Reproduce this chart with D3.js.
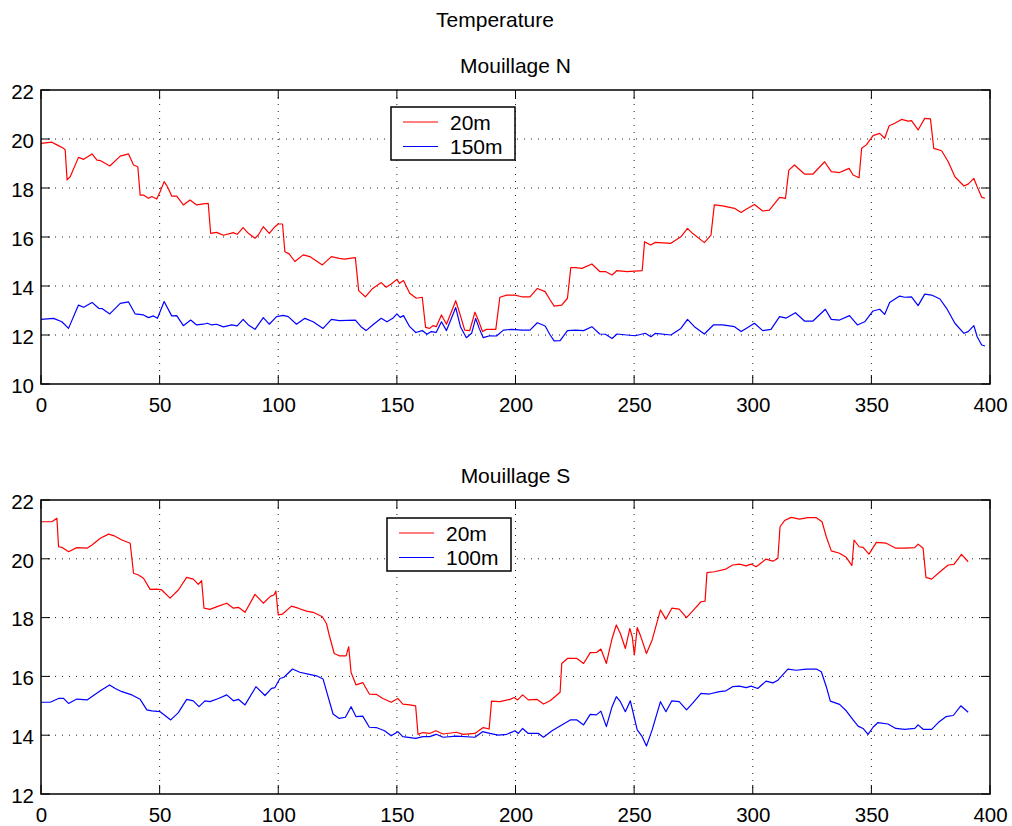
<!DOCTYPE html>
<html>
<head>
<meta charset="utf-8">
<script src="https://cdn.jsdelivr.net/npm/d3@7"></script>
<style>
  html, body { margin: 0; padding: 0; background: #fff; }
  svg { display: block; font-family: "Liberation Sans", Arial, Helvetica, sans-serif; }
</style>
</head>
<body>
<svg id="chart" width="1012" height="826"></svg>
<script>
// Temperature records, [day, °C]
const north20m = [[0,19.82],[4.6,19.87],[6.7,19.76],[9.5,19.62],[10.2,19.55],[11,18.33],[12.3,18.46],[15.8,19.25],[18,19.17],[21.5,19.39],[23.6,19.14],[25,19.12],[29,18.9],[33.4,19.3],[36.9,19.39],[39,18.94],[40.8,18.87],[41.8,17.71],[43.2,17.71],[45.3,17.58],[46.7,17.65],[48.8,17.55],[50.2,17.85],[51.9,18.26],[53.3,18.05],[55.1,17.67],[57.2,17.67],[60,17.31],[62.8,17.51],[65.6,17.31],[68.4,17.35],[70.5,17.37],[71.5,16.15],[74,16.19],[76.9,16.07],[81,16.18],[82.7,16.11],[85.2,16.38],[87.4,16.15],[90.2,15.95],[91.6,16.08],[93.7,16.42],[96.2,16.15],[98.6,16.42],[100,16.53],[101.8,16.53],[102.8,15.4],[104.6,15.31],[107,15.0],[110.5,15.27],[113.3,15.2],[118.6,14.86],[122.4,15.2],[125.7,15.13],[127.9,15.1],[132.5,15.16],[133.9,13.81],[136.7,13.56],[139.8,13.9],[143.4,14.14],[145.5,13.95],[147.6,14.08],[150,14.27],[151.1,14.11],[152.8,14.22],[155.4,13.7],[158.2,13.5],[160.7,13.54],[162.1,12.31],[163.8,12.27],[165.2,12.38],[166.6,12.34],[168.8,12.82],[170.9,12.44],[173,12.95],[174.8,13.4],[176.5,12.88],[178.6,12.2],[180.7,12.18],[182.9,12.93],[184.3,12.61],[186.1,12.14],[187.8,12.23],[191.7,12.23],[193.4,13.54],[196.3,13.63],[199.8,13.63],[202.6,13.56],[206.1,13.56],[209.2,13.9],[212.5,13.77],[214.6,13.43],[216.3,13.18],[219.5,13.22],[221.9,13.5],[223.3,14.75],[225.2,14.75],[228,14.72],[232.2,14.9],[235.5,14.59],[237.9,14.59],[240.7,14.45],[242.8,14.63],[247,14.59],[253.4,14.63],[254.4,15.81],[256.9,15.67],[259,15.78],[265.5,15.74],[269.7,16.01],[272.5,16.35],[274.6,16.15],[279.6,15.77],[282.4,16.08],[283.8,17.31],[287.3,17.27],[292.3,17.17],[295.1,17.0],[297.2,17.13],[300.7,17.33],[304.2,17.06],[307,17.1],[311.3,17.62],[313.8,17.58],[315.2,18.73],[317.6,18.94],[321.8,18.57],[325.4,18.57],[330.3,19.07],[333.1,18.67],[336.6,18.63],[340.6,18.8],[342.3,18.53],[344.8,18.42],[345.9,19.62],[347.9,19.76],[350.7,20.14],[353.5,20.23],[355.6,20.03],[357.5,20.54],[359.9,20.64],[362.7,20.8],[365.5,20.73],[366.9,20.75],[369.7,20.37],[372.5,20.84],[374.9,20.82],[376.3,19.62],[379.6,19.52],[382.4,19.07],[385.2,18.46],[389,18.08],[390.8,18.16],[393.2,18.39],[394.6,18.05],[396.5,17.62],[397.9,17.58]];

const north150m = [[0,12.64],[5.3,12.68],[8.8,12.54],[11.6,12.27],[15.8,13.22],[18,13.13],[21.5,13.33],[24.3,13.09],[25.7,13.08],[29,12.86],[33.4,13.29],[36.9,13.35],[39.7,12.86],[43.2,12.82],[45.3,12.71],[47.4,12.78],[49.1,12.68],[51.9,13.37],[55.1,12.78],[57.2,12.79],[60,12.38],[63.1,12.61],[65.6,12.41],[68.4,12.44],[70.1,12.48],[72,12.41],[74,12.44],[76.9,12.33],[80.4,12.41],[82.7,12.37],[85.2,12.64],[87.4,12.41],[90.2,12.23],[93.7,12.71],[96.2,12.44],[99.3,12.75],[102.1,12.8],[104.2,12.75],[107.7,12.44],[111.2,12.68],[114.7,12.54],[118.9,12.27],[122.4,12.64],[125.7,12.59],[132.5,12.61],[134.9,12.34],[137,12.18],[139.8,12.41],[143.4,12.68],[145.8,12.54],[148.3,12.68],[150,12.86],[151.4,12.72],[152.8,12.79],[155.4,12.34],[158,12.1],[160.7,12.18],[162.7,12.03],[164.5,12.14],[166.6,12.11],[168.8,12.54],[170.9,12.18],[173,12.68],[174.8,13.12],[176.8,12.34],[179.3,11.89],[181.5,12.07],[183.2,12.68],[184.7,12.27],[186.4,11.89],[189.2,11.97],[192,11.96],[194.9,12.2],[198.4,12.23],[202.6,12.2],[206.1,12.2],[209.2,12.5],[212.5,12.37],[214.6,12.0],[216.3,11.76],[218.8,11.77],[221.9,12.18],[225.2,12.2],[228.7,12.18],[232.2,12.34],[235.5,12.04],[237.9,12.03],[240.7,11.86],[242.8,12.04],[247,12.0],[250.4,11.97],[254.7,12.07],[257.1,11.93],[259,12.07],[265.5,12.0],[269.7,12.27],[272.5,12.64],[275.4,12.34],[279.6,12.04],[283.4,12.41],[287.3,12.41],[292.3,12.34],[295.1,12.14],[297.2,12.27],[300.7,12.48],[304.2,12.18],[307.7,12.23],[311.3,12.75],[314.1,12.69],[318,12.91],[321.8,12.57],[325.4,12.57],[330.6,13.05],[333.1,12.64],[336.6,12.61],[340.8,12.79],[344.1,12.41],[347.2,12.54],[350.7,12.98],[353.5,13.05],[355.6,12.84],[357.7,13.33],[361.9,13.59],[364.1,13.54],[366.9,13.56],[369.7,13.2],[372.5,13.67],[375.4,13.63],[378.9,13.47],[381.7,13.09],[385.2,12.48],[389,12.07],[390.8,12.14],[393.2,12.38],[394.6,11.93],[396.5,11.59],[397.9,11.55]];

const south20m = [[0,21.26],[4.6,21.26],[6.7,21.38],[7.4,20.41],[8.8,20.39],[11.6,20.24],[15.1,20.38],[19.4,20.36],[21.5,20.47],[25,20.7],[28.5,20.84],[30.6,20.79],[34.1,20.64],[37.6,20.53],[39,19.51],[41.1,19.45],[43.2,19.34],[46,18.96],[48.8,18.97],[50.9,18.94],[54.4,18.66],[57.9,18.94],[61.4,19.37],[64.2,19.31],[66.3,19.13],[67.7,19.26],[68.7,18.32],[71.2,18.28],[74.8,18.39],[78.3,18.49],[81.1,18.32],[83.2,18.35],[86,18.18],[90.2,18.79],[93.7,18.49],[96.8,18.73],[98.2,18.77],[99,18.9],[100,18.09],[101.8,18.12],[105.6,18.39],[108.4,18.32],[111.9,18.22],[114.7,18.18],[118.6,18.03],[120.3,17.8],[121.5,17.4],[123.6,16.78],[125.7,16.7],[128.6,16.7],[129.7,17.01],[130.7,16.13],[132.8,15.71],[135.6,15.79],[138.4,15.4],[141.3,15.39],[144.1,15.25],[147.6,15.12],[150.4,15.25],[152.5,15.06],[155.4,15.03],[157.9,15.0],[158.9,14.03],[161,14.09],[163.8,14.06],[166.4,14.15],[169.5,14.04],[175.1,14.1],[177.9,14.03],[182.9,14.06],[186.4,14.26],[188.9,14.21],[189.9,15.16],[193.4,15.14],[197.7,15.22],[199.4,15.28],[200.9,15.2],[203,15.37],[205.4,15.2],[209,15.22],[211.8,15.06],[214.6,15.17],[218.8,15.46],[219.5,16.44],[221.9,16.61],[225.9,16.61],[228.7,16.44],[231.5,16.81],[234.3,16.82],[236,16.93],[238.3,16.44],[240.7,17.29],[242.5,17.75],[244.2,17.46],[246.3,16.95],[248.2,17.63],[249.2,17.35],[250.1,16.73],[251.3,17.66],[252.7,17.38],[255.2,16.78],[257.6,17.24],[261.1,18.26],[263.4,17.95],[265.9,18.32],[269,18.29],[272.1,18.0],[274.6,18.22],[278.2,18.54],[279.9,18.56],[280.7,19.53],[283.8,19.56],[288.7,19.65],[291.5,19.79],[294.4,19.82],[297.2,19.76],[299.3,19.82],[301.4,19.73],[305.6,19.99],[308.5,19.92],[310.6,20.02],[311.5,21.09],[313.4,21.3],[316.2,21.41],[319.7,21.35],[323.2,21.4],[326.8,21.4],[329.2,21.26],[331,20.75],[333.1,20.27],[336.6,20.19],[339.4,20.05],[341.8,19.77],[342.7,20.64],[344.8,20.41],[346.5,20.39],[349,20.16],[352.1,20.56],[356.3,20.53],[360.3,20.36],[364.1,20.36],[368.3,20.38],[369.7,20.5],[371.8,20.36],[373,19.37],[375.4,19.31],[378.9,19.56],[382.4,19.79],[384.8,19.81],[388,20.15],[390.8,19.9]];

const south100m = [[0,15.12],[3.9,15.12],[7.4,15.25],[9.5,15.25],[11.6,15.08],[15.1,15.23],[19.4,15.2],[25,15.51],[28.9,15.71],[31.3,15.59],[34.1,15.48],[38.3,15.37],[41.8,15.22],[44.6,14.86],[46.7,14.83],[50.2,14.8],[54.7,14.52],[57.9,14.77],[61.4,15.22],[64.2,15.17],[66.6,14.97],[69.1,15.17],[71.2,15.14],[74.8,15.25],[78.3,15.37],[81.1,15.17],[83.2,15.22],[86,15.03],[90.6,15.65],[94.4,15.35],[97.2,15.59],[98.6,15.62],[100.7,15.93],[102.4,15.97],[106,16.25],[109.1,16.14],[112.6,16.08],[116.1,16.02],[118.9,15.91],[121,15.31],[123.1,14.72],[125.7,14.57],[128.3,14.61],[130.7,14.97],[132.8,14.63],[135.6,14.65],[138.4,14.27],[141.3,14.26],[144.8,14.15],[147.6,13.98],[150.4,14.12],[152.5,13.95],[157.9,13.89],[161,13.95],[163.8,13.95],[166.6,14.03],[169.5,13.93],[175.1,13.97],[182.9,13.93],[186.1,14.12],[189.2,14.06],[192.7,14.0],[196.3,14.03],[199.8,14.15],[201.2,14.06],[203,14.23],[205.4,14.06],[209.7,14.06],[211.8,13.93],[215.4,14.15],[219.5,14.35],[223.1,14.52],[225.9,14.52],[228.7,14.35],[231.5,14.71],[234.1,14.69],[236,14.82],[238.3,14.29],[240.7,14.97],[242.5,15.31],[244.2,15.14],[246.3,14.8],[248.4,15.17],[251.3,14.18],[253.4,13.95],[255.2,13.63],[257.6,14.18],[261.1,15.14],[263.4,14.8],[265.9,15.17],[269,15.14],[272.1,14.86],[274.6,15.08],[278.2,15.42],[281.7,15.4],[285.9,15.48],[288.7,15.51],[291.5,15.65],[294.4,15.67],[297.2,15.62],[299.3,15.67],[302.1,15.59],[305.6,15.84],[308.5,15.78],[310.6,15.87],[314.8,16.25],[318.3,16.21],[322.5,16.25],[326.8,16.25],[328.9,16.16],[331,15.65],[332.7,15.16],[336.6,15.05],[339.4,14.83],[342.3,14.52],[344.4,14.31],[346.5,14.23],[348.6,14.03],[350.7,14.27],[352.8,14.43],[357,14.38],[360.3,14.23],[364.1,14.2],[368.3,14.23],[369.7,14.35],[371.8,14.2],[375.4,14.2],[378.2,14.43],[381.4,14.63],[384.5,14.67],[387.7,15.0],[390.8,14.78]];

// Axis ticks and labels
const dayTicks = [0, 50, 100, 150, 200, 250, 300, 350, 400];
const northTempTicks = [10, 12, 14, 16, 18, 20, 22];
const southTempTicks = [12, 14, 16, 18, 20, 22];
const figureTitle = "Temperature";
const northTitle = "Mouillage N";
const southTitle = "Mouillage S";
const northLegend = ["20m", "150m"];
const southLegend = ["20m", "100m"];

const TEXT_SIZE = 21;
const TICK_SIZE = 20.5;

const svg = d3.select("#chart");
svg.append("rect").attr("width", 1012).attr("height", 826).attr("fill", "#fff");

const LEFT = 41, RIGHT = 990;
const x = d3.scaleLinear().domain([0, 400]).range([LEFT, RIGHT]);

function drawPanel(opts) {
  const { top, bottom, yDomain, yTicks, title, series, legend } = opts;
  const y = d3.scaleLinear().domain(yDomain).range([bottom, top]);
  const g = svg.append("g");

  // dotted grid
  const grid = g.append("g").attr("stroke", "#222").attr("stroke-width", 1)
    .attr("stroke-dasharray", "1,6").attr("fill", "none");
  dayTicks.filter(d => d > 0 && d < 400).forEach(d => {
    grid.append("line").attr("x1", x(d)).attr("x2", x(d))
      .attr("y1", top).attr("y2", bottom);
  });
  yTicks.filter(t => t > yDomain[0] && t < yDomain[1]).forEach(t => {
    grid.append("line").attr("x1", LEFT).attr("x2", RIGHT)
      .attr("y1", y(t)).attr("y2", y(t));
  });

  // data lines
  const line = d3.line().x(d => x(d[0])).y(d => y(d[1]));
  series.forEach(s => {
    g.append("path").datum(s.data).attr("d", line)
      .attr("fill", "none").attr("stroke", s.color)
      .attr("stroke-width", 1.2).attr("stroke-linejoin", "round");
  });

  // inward tick marks on all four sides
  const tl = 9;
  const ticks = g.append("g").attr("stroke", "#000").attr("stroke-width", 1);
  dayTicks.forEach(d => {
    ticks.append("line").attr("x1", x(d)).attr("x2", x(d)).attr("y1", bottom).attr("y2", bottom - tl);
    ticks.append("line").attr("x1", x(d)).attr("x2", x(d)).attr("y1", top).attr("y2", top + tl);
  });
  yTicks.forEach(t => {
    ticks.append("line").attr("x1", LEFT).attr("x2", LEFT + tl).attr("y1", y(t)).attr("y2", y(t));
    ticks.append("line").attr("x1", RIGHT).attr("x2", RIGHT - tl).attr("y1", y(t)).attr("y2", y(t));
  });

  // frame
  g.append("rect").attr("x", LEFT).attr("y", top)
    .attr("width", RIGHT - LEFT).attr("height", bottom - top)
    .attr("fill", "none").attr("stroke", "#000").attr("stroke-width", 1.5);

  // tick labels
  const xAxis = g.append("g").attr("transform", `translate(0,${bottom})`)
    .call(d3.axisBottom(x).tickValues(dayTicks).tickFormat(d3.format("d")).tickSize(0).tickPadding(13));
  const yAxis = g.append("g").attr("transform", `translate(${LEFT},0)`)
    .call(d3.axisLeft(y).tickValues(yTicks).tickFormat(d3.format("d")).tickSize(0).tickPadding(7));
  [xAxis, yAxis].forEach(a => {
    a.select(".domain").remove();
    a.selectAll("text").attr("font-size", TICK_SIZE).attr("fill", "#000")
      .attr("font-family", "Liberation Sans, Arial, sans-serif");
  });
  yAxis.selectAll("text").attr("dy", "0.4em");

  // panel title
  g.append("text").attr("x", (LEFT + RIGHT) / 2).attr("y", top - 17)
    .attr("text-anchor", "middle").attr("font-size", TEXT_SIZE).text(title);

  // legend
  const lg = g.append("g").attr("transform", `translate(${legend.x},${legend.y})`);
  lg.append("rect").attr("width", 124).attr("height", 53)
    .attr("fill", "#fff").attr("stroke", "#000").attr("stroke-width", 1.5);
  series.forEach((s, i) => {
    const ly = 15 + i * 24.5;
    lg.append("line").attr("x1", 12).attr("x2", 47).attr("y1", ly).attr("y2", ly)
      .attr("stroke", s.color).attr("stroke-width", 1.2);
    lg.append("text").attr("x", 59).attr("y", ly + 7.5)
      .attr("font-size", TEXT_SIZE).text(legend.labels[i]);
  });
}

// figure title
svg.append("text").attr("x", 495).attr("y", 27).attr("text-anchor", "middle")
  .attr("font-size", TEXT_SIZE).text(figureTitle);

drawPanel({
  top: 90, bottom: 384, yDomain: [10, 22], yTicks: northTempTicks, title: northTitle,
  series: [{ data: north20m, color: "#ff0000" }, { data: north150m, color: "#0000ff" }],
  legend: { x: 391, y: 107, labels: northLegend }
});

drawPanel({
  top: 500, bottom: 794, yDomain: [12, 22], yTicks: southTempTicks, title: southTitle,
  series: [{ data: south20m, color: "#ff0000" }, { data: south100m, color: "#0000ff" }],
  legend: { x: 387, y: 518, labels: southLegend }
});
</script>
</body>
</html>
